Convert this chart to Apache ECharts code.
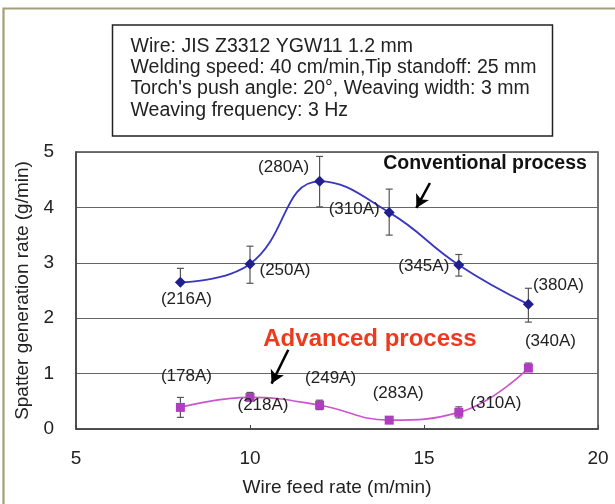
<!DOCTYPE html>
<html>
<head>
<meta charset="utf-8">
<script src="https://cdn.jsdelivr.net/npm/echarts@6/dist/echarts.min.js"></script>
<style>
html,body{margin:0;padding:0;background:#fff;}
#c{width:615px;height:504px;}
</style>
</head>
<body>
<div id="c"></div>
<script>
// ---- data ----
const feedRates = [8, 10, 12, 14, 16, 18];
const conventional = [2.65, 2.98, 4.47, 3.91, 2.96, 2.25];
const convErrUp = [0.25, 0.32, 0.45, 0.42, 0.19, 0.29];
const convErrDown = [0.0, 0.35, 0.46, 0.41, 0.20, 0.32];
const convCurrents = ['(216A)', '(250A)', '(280A)', '(310A)', '(345A)', '(380A)'];
const advanced = [0.39, 0.57, 0.43, 0.16, 0.30, 1.10];
const advErrUp = [0.18, 0.09, 0.09, 0.06, 0.10, 0.09];
const advErrDown = [0.18, 0.05, 0.08, 0.06, 0.10, 0.05];
const advCurrents = ['(178A)', '(218A)', '(249A)', '(283A)', '(310A)', '(340A)'];
const xTicks = [5, 10, 15, 20];
const yTicks = [0, 1, 2, 3, 4, 5];
const boxLines = [
  'Wire: JIS Z3312 YGW11 1.2 mm',
  'Welding speed: 40 cm/min,Tip standoff: 25 mm',
  "Torch's push angle: 20°, Weaving width: 3 mm",
  'Weaving frequency: 3 Hz'
];
const convTitle = 'Conventional process';
const advTitle = 'Advanced process';
const xName = 'Wire feed rate (m/min)';
const yName = 'Spatter generation rate (g/min)';
// arrow annotations in data space [from, to]
const convArrow = [[15.17, 4.44], [14.78, 3.99]];
const advArrow = [[11.10, 1.43], [10.62, 0.82]];

// ---- layout / style ----
const FONT = 'Liberation Sans, Arial, sans-serif';
const convLabelOffset = [[6, 17], [35, 6], [-36, -14], [-35, -3], [-35, 1], [30, -19]];
const advLabelOffset = [[6, -31], [13, 8], [11, -27], [9, -27], [37, -9], [22, -27]];

function lineData(vals, labels, offsets) {
  return feedRates.map((x, i) => ({
    value: [x, vals[i]],
    label: {
      show: true, formatter: labels[i], position: 'inside',
      offset: offsets[i], color: '#222', fontSize: 17, fontFamily: FONT
    }
  }));
}
function errData(vals, up, down) {
  return feedRates.map((x, i) => [x, vals[i] - down[i], vals[i] + up[i]]);
}
function errRender(params, api) {
  const x = api.value(0);
  const lo = api.coord([x, api.value(1)]);
  const hi = api.coord([x, api.value(2)]);
  const w = 3.5;
  const st = { stroke: '#555', lineWidth: 1.2 };
  const children = [
    { type: 'line', shape: { x1: lo[0], y1: lo[1], x2: hi[0], y2: hi[1] }, style: st },
    { type: 'line', shape: { x1: hi[0] - w, y1: hi[1], x2: hi[0] + w, y2: hi[1] }, style: st }
  ];
  if (Math.abs(lo[1] - hi[1]) > 0 && api.value(1) < api.value(2)) {
    children.push({ type: 'line', shape: { x1: lo[0] - w, y1: lo[1], x2: lo[0] + w, y2: lo[1] }, style: st });
  }
  return { type: 'group', children };
}
function arrowMark(a) {
  return {
    silent: true, animation: false,
    symbol: ['none', 'arrow'], symbolSize: [11, 13],
    lineStyle: { color: '#000', width: 2.5, type: 'solid' },
    label: { show: false },
    data: [[{ coord: a[0] }, { coord: a[1] }]]
  };
}

const chart = echarts.init(document.getElementById('c'), null, { renderer: 'canvas' });
const option = {
  animation: false,
  backgroundColor: '#fff',
  grid: { left: 76, right: 17, top: 152, bottom: 75, show: true, borderColor: '#444', borderWidth: 1.5, backgroundColor: 'transparent' },
  xAxis: {
    type: 'value', min: xTicks[0], max: xTicks[xTicks.length - 1], interval: 5,
    name: xName, nameLocation: 'middle', nameGap: 49,
    nameTextStyle: { fontSize: 19, color: '#222', fontFamily: FONT },
    axisLine: { show: true, onZero: false, lineStyle: { color: '#444', width: 1.5 } },
    axisTick: { show: true, inside: true, length: 4, lineStyle: { color: '#444' } },
    axisLabel: { margin: 20, fontSize: 19, color: '#222', fontFamily: FONT },
    splitLine: { show: false }
  },
  yAxis: {
    type: 'value', min: yTicks[0], max: yTicks[yTicks.length - 1], interval: 1,
    name: yName, nameLocation: 'middle', nameGap: 43, nameRotate: 90,
    nameTextStyle: { fontSize: 19, color: '#222', fontFamily: FONT },
    axisLine: { show: true, lineStyle: { color: '#444', width: 1.5 } },
    axisTick: { show: false },
    axisLabel: { margin: 22, fontSize: 19, color: '#222', fontFamily: FONT },
    splitLine: { show: true, lineStyle: { color: '#666', width: 1.2 } }
  },
  series: [
    { type: 'custom', name: 'convErr', renderItem: errRender, data: errData(conventional, convErrUp, convErrDown), encode: { x: 0, y: [1, 2] }, z: 2, silent: true },
    { type: 'custom', name: 'advErr', renderItem: errRender, data: errData(advanced, advErrUp, advErrDown), encode: { x: 0, y: [1, 2] }, z: 2, silent: true },
    {
      type: 'line', name: 'Conventional', smooth: 0.45, z: 3,
      data: lineData(conventional, convCurrents, convLabelOffset),
      symbol: 'diamond', symbolSize: 11,
      itemStyle: { color: '#1f1f8f' },
      lineStyle: { color: '#3a36c0', width: 1.8 },
      markLine: arrowMark(convArrow)
    },
    {
      type: 'line', name: 'Advanced', smooth: 0.45, z: 3,
      data: lineData(advanced, advCurrents, advLabelOffset),
      symbol: 'rect', symbolSize: 9,
      itemStyle: { color: '#b03cc0' },
      lineStyle: { color: '#cc55cc', width: 1.6 },
      markLine: arrowMark(advArrow)
    }
  ],
  graphic: [
    { type: 'polyline', shape: { points: [[3.5, 504], [3.5, 8.5], [615, 8.5]] }, style: { stroke: '#a39d7c', lineWidth: 2.2, fill: null }, silent: true },
    { type: 'rect', shape: { x: 112.5, y: 25, width: 440, height: 111 }, style: { stroke: '#222', lineWidth: 1.5, fill: '#fff' }, silent: true },
    ...boxLines.map((t, i) => ({
      type: 'text', left: null, silent: true,
      style: { text: t, x: 130.5, y: 46.5 + i * 21.3, textVerticalAlign: 'middle', textAlign: 'left', fontSize: 19.5, fontFamily: FONT, fill: '#222' }
    })),
    { type: 'text', silent: true, style: { text: convTitle, x: 485, y: 164, textAlign: 'center', textVerticalAlign: 'middle', fontSize: 19.5, fontWeight: 'bold', fontFamily: FONT, fill: '#111' } },
    { type: 'text', silent: true, style: { text: advTitle, x: 370, y: 339, textAlign: 'center', textVerticalAlign: 'middle', fontSize: 24, fontWeight: 'bold', fontFamily: FONT, fill: '#ec3a1f' } }
  ]
};
chart.setOption(option);
</script>
</body>
</html>
